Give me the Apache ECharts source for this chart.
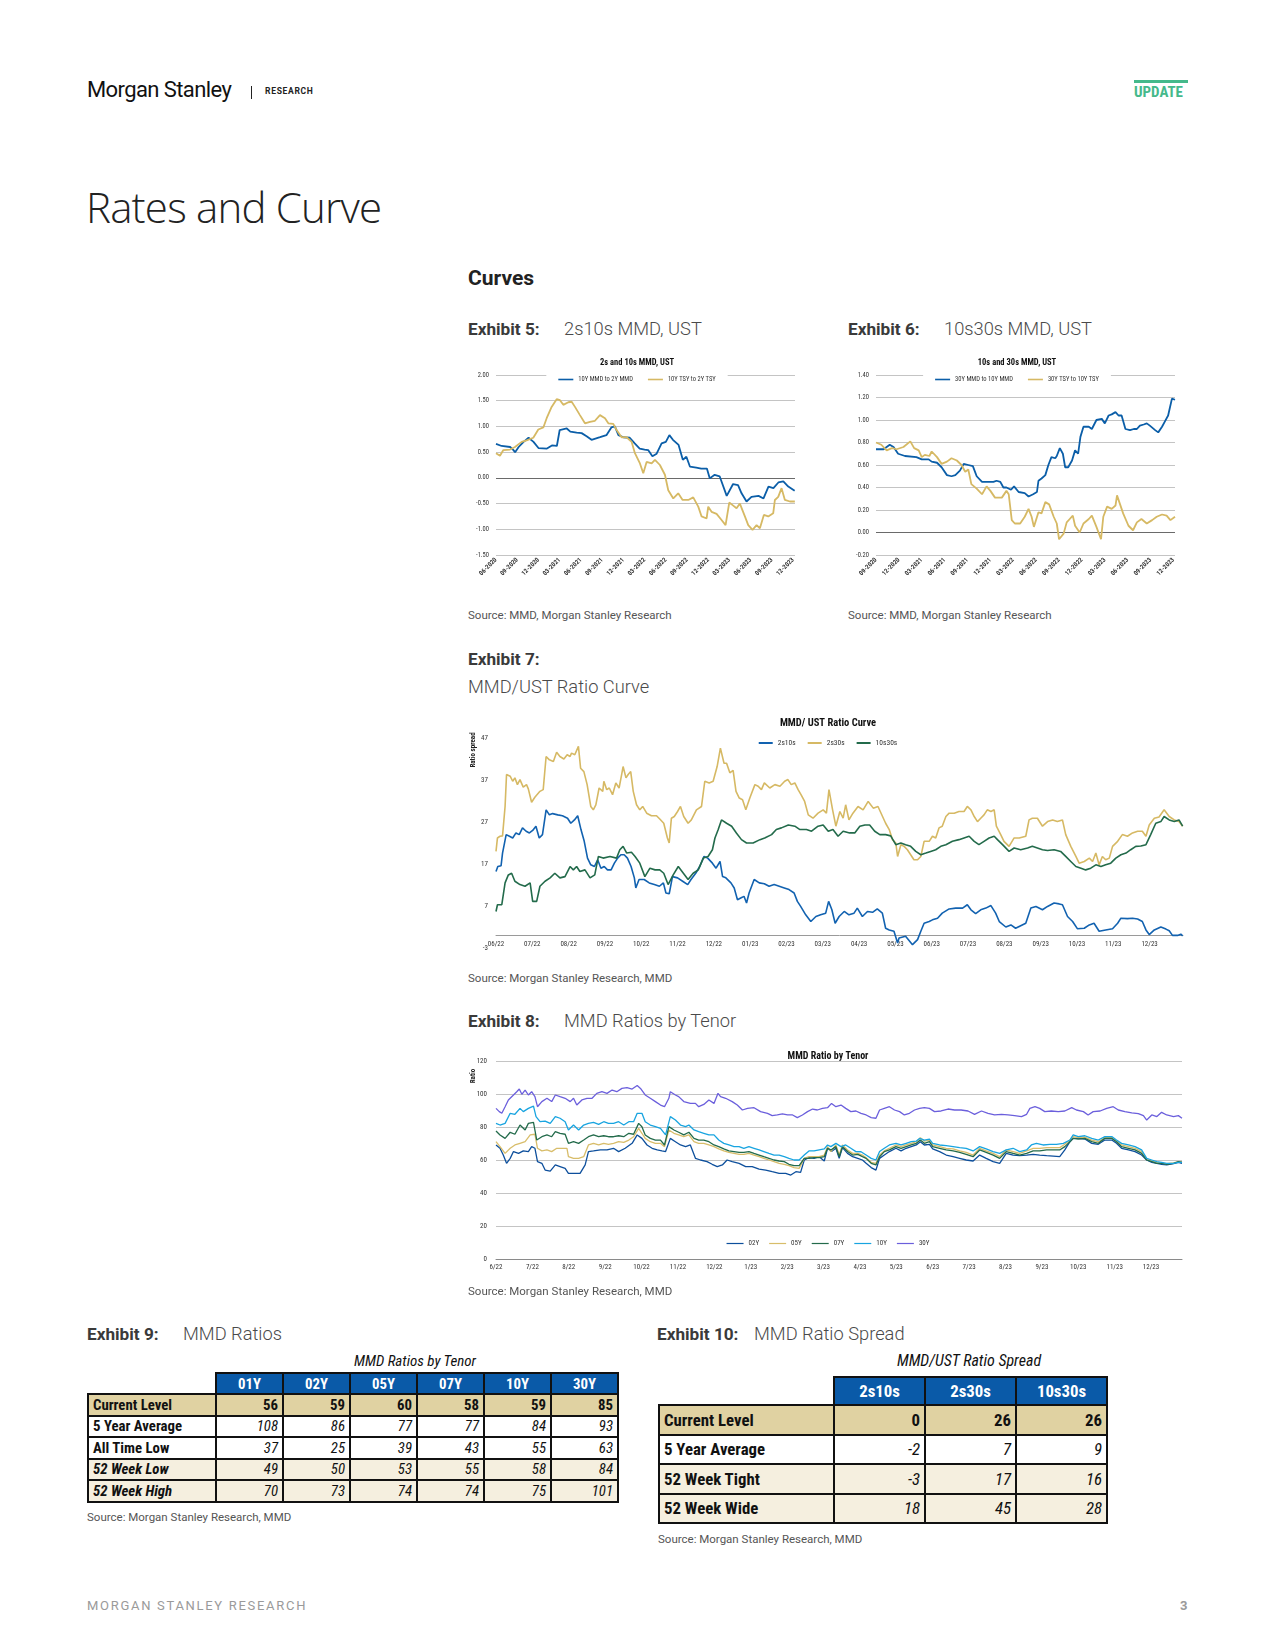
<!DOCTYPE html>
<html><head><meta charset="utf-8">
<script src="https://cdn.jsdelivr.net/npm/echarts@6/dist/echarts.min.js"></script>
<style>
body{margin:0;background:#fff;width:1275px;height:1650px;position:relative;overflow:hidden;font-family:Roboto,"Open Sans",sans-serif;color:#222}
.t{position:absolute;white-space:nowrap;line-height:1}
.ex{font-size:17.2px;font-weight:700;color:#3a3a3a}
.ed{font-size:18.3px;font-weight:300;color:#4a4a4a}
.src{font-size:11.5px;color:#555}
.cond{font-family:"Roboto Condensed","Liberation Sans Narrow","DejaVu Sans Condensed",Roboto,sans-serif}
.chart{position:absolute}
table.tb{position:absolute;border-collapse:collapse;table-layout:fixed;font-family:"Roboto Condensed","Liberation Sans Narrow","DejaVu Sans Condensed",Roboto,sans-serif;color:#111}
table.tb td{border:2px solid #111;padding:0 4px;white-space:nowrap;overflow:hidden}
table.tb td.blank{border:none;background:transparent}
table.tb td.hd{background:#0a5aa8;color:#fff;font-weight:700;text-align:center}
table.tb td.lb{font-weight:700;text-align:left}
table.tb td.v{text-align:right;font-style:italic}
</style></head><body>

<div class="t" style="left:87px;top:79px;font-size:22px;color:#111;letter-spacing:-0.6px">Morgan Stanley</div>
<div style="position:absolute;left:251px;top:86px;width:1px;height:13px;background:#222"></div>
<div class="t" style="left:265px;top:87px;font-size:8.5px;font-weight:700;letter-spacing:0.7px;color:#222">RESEARCH</div>
<div style="position:absolute;left:1134px;top:80px;width:54px;height:3px;background:#45b98b"></div>
<div class="t cond" style="left:1134px;top:85px;font-size:15px;font-weight:700;color:#45b98b">UPDATE</div>

<div class="t" style="left:86px;top:186px;font-size:42px;font-weight:300;color:#222;font-family:'Open Sans',Lato,sans-serif;letter-spacing:-0.8px">Rates and Curve</div>

<div class="t" style="left:468px;top:268px;font-size:21px;font-weight:700;color:#222">Curves</div>

<div class="t ex" style="left:468px;top:321px">Exhibit 5:</div>
<div class="t ed" style="left:564px;top:320px">2s10s MMD, UST</div>
<div class="t ex" style="left:848px;top:321px">Exhibit 6:</div>
<div class="t ed" style="left:944px;top:320px">10s30s MMD, UST</div>
<div id="c5" class="chart" style="left:460px;top:345px;width:354px;height:250px"></div>
<div id="c6" class="chart" style="left:840px;top:345px;width:354px;height:250px"></div>
<div class="t src" style="left:468px;top:610px">Source: MMD, Morgan Stanley Research</div>
<div class="t src" style="left:848px;top:610px">Source: MMD, Morgan Stanley Research</div>

<div class="t ex" style="left:468px;top:651px">Exhibit 7:</div>
<div class="t ed" style="left:468px;top:678px">MMD/UST Ratio Curve</div>
<div id="c7" class="chart" style="left:460px;top:700px;width:736px;height:270px"></div>
<div class="t src" style="left:468px;top:973px">Source: Morgan Stanley Research, MMD</div>

<div class="t ex" style="left:468px;top:1013px">Exhibit 8:</div>
<div class="t ed" style="left:564px;top:1012px">MMD Ratios by Tenor</div>
<div id="c8" class="chart" style="left:460px;top:1040px;width:736px;height:245px"></div>
<div class="t src" style="left:468px;top:1286px">Source: Morgan Stanley Research, MMD</div>

<div class="t ex" style="left:87px;top:1326px">Exhibit 9:</div>
<div class="t ed" style="left:183px;top:1325px">MMD Ratios</div>
<div class="t cond" style="left:415px;top:1354px;font-size:15px;font-style:italic;color:#111;transform:translateX(-50%)">MMD Ratios by Tenor</div>
<table id="t9" class="tb" style="left:87px;top:1372px;width:530px"></table>
<div class="t src" style="left:87px;top:1512px">Source: Morgan Stanley Research, MMD</div>

<div class="t ex" style="left:657px;top:1326px">Exhibit 10:</div>
<div class="t ed" style="left:754px;top:1325px">MMD Ratio Spread</div>
<div class="t cond" style="left:969px;top:1353px;font-size:16px;font-style:italic;color:#111;transform:translateX(-50%)">MMD/UST Ratio Spread</div>
<table id="t10" class="tb" style="left:658px;top:1376px;width:448px"></table>
<div class="t src" style="left:658px;top:1534px">Source: Morgan Stanley Research, MMD</div>

<div class="t" style="left:87px;top:1599px;font-size:13px;letter-spacing:1.7px;color:#9a9a9a">MORGAN STANLEY RESEARCH</div>
<div class="t" style="left:1180px;top:1599px;font-size:13px;font-weight:700;color:#9a9a9a">3</div>

<script>
// ---------------- DATA ----------------
// Exhibit 5: x = months since 06-2020
const ex5Ticks = ['06-2020','09-2020','12-2020','03-2021','06-2021','09-2021','12-2021','03-2022','06-2022','09-2022','12-2022','03-2023','06-2023','09-2023','12-2023'];
const ex5Mmd = [[0,0.66],[0.8,0.62],[2.0,0.60],[2.4,0.55],[2.7,0.50],[3.2,0.60],[3.9,0.70],[4.6,0.78],[5.3,0.70],[6.0,0.58],[7.2,0.57],[7.9,0.63],[8.6,0.62],[9.0,0.93],[10.0,0.96],[10.5,0.90],[11.4,0.88],[12.1,0.87],[12.8,0.81],[13.5,0.74],[14.7,0.79],[15.6,0.83],[16.3,0.98],[16.8,1.00],[17.3,0.83],[18.0,0.79],[18.9,0.78],[19.6,0.67],[20.3,0.57],[21.0,0.55],[21.5,0.54],[22.1,0.42],[22.7,0.47],[23.4,0.67],[24.0,0.70],[24.5,0.83],[25.0,0.74],[25.8,0.64],[26.4,0.35],[26.9,0.41],[27.4,0.22],[28.3,0.20],[29.0,0.18],[29.8,0.18],[30.2,-0.01],[30.9,0.06],[31.6,0.03],[32.6,-0.35],[33.5,-0.12],[34.2,-0.14],[34.7,-0.30],[35.4,-0.46],[36.1,-0.37],[37.1,-0.35],[37.8,-0.40],[38.5,-0.17],[39.2,-0.20],[39.9,-0.09],[40.6,-0.07],[41.3,-0.17],[42.2,-0.25]];
const ex5Tsy = [[0,0.48],[0.56,0.43],[1.04,0.54],[1.98,0.55],[2.68,0.60],[3.63,0.70],[4.33,0.73],[5.27,0.78],[5.98,0.94],[6.69,0.98],[7.16,1.16],[7.86,1.38],[8.57,1.53],[9.04,1.51],[9.51,1.42],[10.22,1.47],[10.69,1.48],[11.16,1.38],[11.86,1.22],[12.57,1.06],[13.28,1.09],[13.98,1.11],[14.69,1.22],[15.40,1.16],[15.87,1.06],[16.57,1.05],[17.04,0.93],[17.75,0.79],[18.46,0.79],[19.16,0.70],[19.63,0.48],[20.34,0.28],[20.81,0.09],[21.28,0.31],[21.99,0.28],[22.46,0.35],[23.16,0.25],[23.87,0.06],[24.34,-0.24],[25.05,-0.40],[25.75,-0.30],[26.37,-0.43],[27.17,-0.43],[27.87,-0.38],[28.58,-0.56],[29.05,-0.75],[29.76,-0.79],[29.99,-0.56],[30.46,-0.66],[31.17,-0.70],[31.87,-0.82],[32.44,-0.92],[32.96,-0.48],[33.43,-0.53],[33.99,-0.59],[34.46,-0.50],[35.17,-0.75],[35.64,-0.92],[36.25,-1.01],[36.82,-0.92],[37.29,-0.98],[37.85,-0.72],[38.47,-0.75],[39.17,-0.69],[39.41,-0.43],[39.88,-0.37],[40.35,-0.20],[40.82,-0.43],[41.53,-0.46],[42.23,-0.46]];

// Exhibit 6: x = months since 09-2020
const ex6Ticks = ['09-2020','12-2020','03-2021','06-2021','09-2021','12-2021','03-2022','06-2022','09-2022','12-2022','03-2023','06-2023','09-2023','12-2023'];
const ex6Mmd = [[0,0.74],[1.0,0.74],[1.4,0.76],[1.8,0.78],[2.3,0.76],[2.9,0.70],[3.8,0.68],[5.3,0.67],[6.0,0.65],[6.9,0.65],[7.3,0.63],[8.0,0.62],[8.6,0.58],[9.3,0.51],[9.9,0.50],[10.4,0.51],[11.0,0.55],[11.5,0.61],[12.1,0.60],[12.7,0.59],[13.2,0.50],[13.9,0.45],[14.5,0.45],[15.4,0.45],[15.8,0.46],[16.3,0.45],[16.7,0.40],[17.1,0.40],[17.7,0.38],[18.1,0.41],[18.7,0.36],[19.5,0.35],[20.0,0.32],[20.6,0.34],[21.1,0.36],[21.3,0.46],[21.7,0.48],[22.2,0.51],[22.6,0.60],[23.0,0.67],[23.5,0.66],[23.7,0.68],[24.1,0.75],[24.5,0.70],[24.8,0.58],[25.2,0.58],[25.7,0.64],[26.1,0.73],[26.5,0.70],[26.8,0.85],[27.2,0.94],[27.9,0.94],[28.3,0.92],[28.9,1.00],[29.6,1.01],[30.0,0.97],[30.5,1.04],[30.9,1.05],[31.4,1.07],[31.8,1.04],[32.2,1.04],[32.7,0.92],[33.3,0.91],[33.8,0.92],[34.2,0.92],[34.6,0.95],[35.1,0.96],[35.5,0.97],[35.9,0.95],[36.6,0.91],[37.0,0.89],[37.5,0.94],[37.9,0.99],[38.3,1.04],[38.8,1.19],[39.2,1.18]];
const ex6Tsy = [[0,0.80],[0.7,0.78],[1.4,0.73],[2.1,0.75],[2.7,0.74],[3.6,0.76],[4.5,0.81],[5.0,0.75],[5.6,0.73],[6.0,0.67],[6.4,0.69],[7.0,0.68],[7.3,0.72],[8.0,0.67],[8.6,0.61],[9.3,0.63],[9.9,0.66],[10.6,0.64],[11.2,0.60],[11.7,0.54],[12.1,0.56],[12.5,0.43],[13.2,0.39],[13.9,0.34],[14.5,0.41],[15.0,0.37],[15.6,0.31],[16.5,0.31],[17.1,0.37],[17.4,0.34],[17.8,0.11],[18.2,0.08],[18.9,0.08],[19.5,0.14],[20.0,0.21],[20.4,0.14],[20.7,0.05],[21.3,0.18],[21.7,0.17],[22.2,0.27],[22.7,0.25],[23.3,0.14],[23.7,0.08],[24.0,-0.06],[24.6,-0.01],[25.0,0.09],[25.4,0.12],[25.8,0.15],[26.1,0.06],[26.7,0.00],[27.2,0.08],[27.9,0.12],[28.3,0.15],[28.9,0.05],[29.5,-0.06],[29.8,0.14],[30.3,0.23],[30.9,0.21],[31.4,0.24],[31.6,0.33],[32.0,0.25],[32.4,0.17],[33.1,0.06],[33.7,0.02],[34.2,0.09],[34.8,0.12],[35.5,0.08],[36.2,0.11],[36.8,0.14],[37.5,0.16],[38.1,0.15],[38.6,0.11],[39.2,0.14]];

// Exhibit 7: x = months since 06/22
const ex7Ticks = ['06/22','07/22','08/22','09/22','10/22','11/22','12/22','01/23','02/23','03/23','04/23','05/23','06/23','07/23','08/23','09/23','10/23','11/23','12/23'];
const ex7S2s10s = [[0,15.2],[0.05,16.4],[0.14,16.6],[0.18,19.6],[0.28,24.0],[0.37,23.6],[0.46,23.2],[0.55,24.4],[0.64,24.0],[0.73,25.6],[0.83,24.8],[0.92,24.4],[1.01,25.0],[1.10,26.0],[1.19,23.2],[1.28,24.0],[1.38,29.9],[1.47,28.7],[1.56,29.0],[1.70,28.7],[1.83,28.5],[1.97,27.9],[2.06,26.7],[2.16,27.5],[2.25,28.5],[2.34,25.2],[2.43,22.4],[2.52,18.4],[2.61,16.8],[2.71,16.4],[2.80,18.0],[2.89,16.0],[2.98,16.4],[3.07,15.6],[3.17,15.6],[3.26,17.2],[3.35,18.4],[3.44,19.2],[3.53,19.2],[3.62,18.4],[3.72,16.4],[3.81,13.7],[3.85,11.3],[3.94,13.3],[4.08,13.3],[4.22,12.5],[4.36,12.1],[4.50,11.7],[4.61,12.5],[4.68,10.1],[4.77,9.9],[4.86,14.0],[5.00,13.7],[5.14,12.9],[5.28,12.1],[5.37,13.3],[5.50,14.8],[5.61,16.4],[5.73,18.8],[5.83,18.4],[5.96,17.2],[6.06,16.0],[6.17,17.6],[6.24,14.0],[6.33,13.7],[6.47,12.5],[6.56,11.3],[6.65,8.5],[6.74,8.9],[6.83,9.3],[6.90,7.7],[6.97,10.1],[7.11,13.3],[7.25,12.5],[7.39,12.3],[7.52,11.7],[7.66,12.1],[7.80,11.7],[7.94,11.3],[8.07,10.9],[8.21,10.1],[8.30,8.1],[8.39,6.9],[8.53,4.9],[8.67,3.3],[8.81,4.5],[8.94,4.9],[9.08,5.3],[9.16,8.1],[9.25,6.1],[9.34,2.9],[9.45,4.5],[9.59,5.7],[9.72,4.9],[9.86,5.3],[9.95,6.5],[10.09,4.5],[10.23,5.7],[10.37,5.5],[10.50,6.3],[10.64,5.3],[10.73,1.7],[10.83,1.3],[10.96,1.0],[11.06,-1.8],[11.10,-0.6],[11.28,-0.2],[11.47,-2.2],[11.61,-1.0],[11.70,1.0],[11.79,2.9],[11.93,3.3],[12.02,3.7],[12.16,4.1],[12.29,5.3],[12.48,6.3],[12.66,6.5],[12.85,6.5],[12.98,7.3],[13.08,6.1],[13.21,5.2],[13.35,6.1],[13.49,6.5],[13.63,7.1],[13.76,5.3],[13.86,3.3],[14.04,2.0],[14.18,2.5],[14.31,1.7],[14.45,2.3],[14.59,2.9],[14.73,6.5],[14.87,6.9],[15.05,6.1],[15.19,6.9],[15.37,7.7],[15.51,7.5],[15.60,7.3],[15.74,4.5],[15.88,3.3],[16.01,1.6],[16.20,1.7],[16.34,2.5],[16.47,2.9],[16.61,1.0],[16.79,1.3],[16.98,1.6],[17.12,2.9],[17.21,4.1],[17.39,4.0],[17.53,4.1],[17.67,3.9],[17.80,3.3],[17.90,1.3],[17.99,0.2],[18.13,1.3],[18.31,2.0],[18.45,1.5],[18.54,1.1],[18.63,0],[18.77,0],[18.86,0.3],[18.91,-0.1]];
const ex7S2s30s = [[0,20.0],[0.04,23.2],[0.11,23.6],[0.18,23.7],[0.25,30.7],[0.29,38.3],[0.39,37.9],[0.46,36.7],[0.52,37.5],[0.59,35.9],[0.66,37.1],[0.75,35.3],[0.84,35.9],[0.89,34.9],[0.98,31.7],[1.07,32.9],[1.21,34.3],[1.30,34.7],[1.38,42.6],[1.47,41.8],[1.58,41.4],[1.67,43.6],[1.76,42.6],[1.87,42.0],[1.96,43.0],[2.04,42.6],[2.08,43.4],[2.17,43.0],[2.27,45.0],[2.33,39.8],[2.42,39.0],[2.51,35.9],[2.61,30.7],[2.68,29.9],[2.75,31.1],[2.84,35.1],[2.94,34.3],[2.97,36.7],[3.05,34.7],[3.12,35.1],[3.21,33.5],[3.30,36.3],[3.39,35.1],[3.46,38.3],[3.50,40.2],[3.58,37.5],[3.64,38.3],[3.71,39.0],[3.78,34.3],[3.87,31.1],[3.96,29.9],[4.04,30.7],[4.15,29.1],[4.28,28.5],[4.42,28.5],[4.51,27.7],[4.62,26.7],[4.72,23.2],[4.77,22.0],[4.83,27.9],[4.91,28.3],[5.00,29.5],[5.08,30.7],[5.17,28.3],[5.29,26.7],[5.38,27.5],[5.52,29.9],[5.66,30.7],[5.75,36.7],[5.87,36.3],[5.98,36.7],[6.09,40.2],[6.18,44.6],[6.28,41.0],[6.35,41.0],[6.44,38.7],[6.53,39.3],[6.61,34.3],[6.70,32.7],[6.79,32.3],[6.88,29.9],[6.99,32.7],[7.13,35.9],[7.22,35.5],[7.31,34.7],[7.39,36.3],[7.54,35.1],[7.68,35.9],[7.82,35.5],[7.95,36.7],[8.04,37.1],[8.13,35.9],[8.23,36.3],[8.32,34.7],[8.40,33.5],[8.50,31.9],[8.60,28.7],[8.73,27.9],[8.87,29.1],[9.01,29.9],[9.10,29.1],[9.17,34.7],[9.27,29.9],[9.36,26.0],[9.47,29.5],[9.56,27.9],[9.63,31.1],[9.72,27.5],[9.83,29.1],[9.97,30.7],[10.11,29.9],[10.25,31.9],[10.39,30.3],[10.52,30.7],[10.73,26.7],[10.83,25.2],[10.92,22.8],[11.01,22.0],[11.06,18.8],[11.15,21.6],[11.24,21.2],[11.33,20.4],[11.42,19.2],[11.51,18.0],[11.61,18.0],[11.70,18.8],[11.79,22.4],[11.93,22.4],[12.02,23.6],[12.11,23.2],[12.20,25.6],[12.29,26.0],[12.39,28.3],[12.48,29.1],[12.62,29.1],[12.75,29.5],[12.89,29.5],[12.98,30.7],[13.08,29.9],[13.17,28.3],[13.26,27.1],[13.35,27.9],[13.44,28.7],[13.53,29.9],[13.63,29.5],[13.72,29.9],[13.78,26.0],[13.90,24.0],[13.99,22.4],[14.13,21.2],[14.27,23.2],[14.41,23.2],[14.59,23.6],[14.68,27.5],[14.77,27.9],[14.91,27.9],[15.05,26.0],[15.19,27.1],[15.33,27.5],[15.46,27.1],[15.60,27.5],[15.69,24.0],[15.83,21.2],[15.97,18.8],[16.06,17.2],[16.20,17.6],[16.34,18.4],[16.43,17.6],[16.52,19.6],[16.61,16.8],[16.70,18.8],[16.79,18.0],[16.89,18.4],[16.98,21.2],[17.12,22.4],[17.25,24.0],[17.39,23.6],[17.53,24.4],[17.67,24.8],[17.80,24.8],[17.90,23.6],[17.99,26.3],[18.13,27.9],[18.26,28.2],[18.40,29.9],[18.54,28.3],[18.68,27.5],[18.81,27.1],[18.91,26.0]];
const ex7S10s30s = [[0,5.7],[0.04,7.3],[0.16,7.3],[0.25,12.5],[0.34,14.4],[0.43,14.8],[0.52,12.9],[0.66,12.1],[0.80,11.7],[0.94,12.5],[1.01,8.1],[1.12,8.1],[1.21,11.7],[1.35,12.9],[1.49,13.7],[1.62,14.8],[1.76,13.7],[1.90,14.0],[2.04,16.4],[2.13,15.6],[2.22,16.4],[2.31,15.2],[2.45,15.6],[2.59,13.7],[2.72,14.4],[2.82,18.8],[2.95,18.4],[3.14,18.8],[3.32,18.4],[3.41,20.4],[3.50,21.2],[3.60,19.6],[3.73,19.8],[3.83,18.8],[3.96,17.2],[4.10,14.0],[4.24,16.0],[4.38,15.6],[4.51,15.6],[4.62,14.8],[4.74,12.1],[4.88,14.4],[5.02,16.4],[5.16,14.8],[5.29,13.3],[5.43,14.8],[5.57,15.6],[5.71,18.4],[5.84,18.8],[5.96,20.4],[6.03,23.2],[6.12,25.2],[6.21,27.5],[6.35,26.7],[6.49,26.0],[6.62,24.4],[6.76,22.8],[6.90,22.0],[7.08,22.0],[7.27,22.8],[7.40,23.2],[7.59,24.0],[7.72,25.2],[7.86,25.6],[8.05,26.3],[8.23,26.0],[8.37,25.2],[8.55,25.2],[8.69,24.8],[8.87,26.0],[9.01,26.3],[9.15,24.8],[9.28,25.2],[9.42,23.6],[9.56,24.8],[9.74,24.4],[9.88,24.4],[10.02,26.0],[10.16,26.3],[10.29,26.3],[10.43,24.8],[10.57,24.0],[10.73,24.0],[10.87,23.7],[11.01,21.6],[11.15,22.0],[11.28,21.6],[11.42,21.2],[11.56,20.0],[11.70,19.2],[11.84,19.6],[11.97,20.0],[12.11,20.4],[12.25,21.2],[12.39,21.6],[12.57,22.4],[12.75,22.8],[12.89,23.2],[13.03,23.6],[13.17,22.4],[13.30,21.6],[13.44,22.4],[13.58,23.2],[13.72,23.6],[13.81,22.8],[13.95,21.6],[14.13,20.0],[14.27,20.8],[14.45,20.4],[14.64,20.8],[14.77,21.2],[14.91,20.8],[15.05,20.4],[15.19,20.2],[15.37,20.4],[15.55,20.0],[15.69,18.8],[15.83,17.6],[15.97,16.4],[16.11,16.0],[16.24,15.6],[16.38,16.0],[16.52,16.8],[16.66,16.4],[16.79,16.8],[16.93,17.2],[17.07,18.4],[17.21,19.2],[17.35,19.6],[17.48,20.4],[17.62,21.2],[17.76,21.3],[17.90,21.6],[18.03,24.0],[18.17,26.7],[18.31,27.1],[18.40,28.3],[18.54,27.5],[18.68,27.1],[18.81,27.5],[18.91,26.0]];

// Exhibit 8: x = months since 6/22
const ex8Ticks = ['6/22','7/22','8/22','9/22','10/22','11/22','12/22','1/23','2/23','3/23','4/23','5/23','6/23','7/23','8/23','9/23','10/23','11/23','12/23'];
const ex8Y02 = [[0,69.1],[0.11,67.1],[0.20,63.0],[0.29,58.0],[0.39,61.0],[0.48,65.1],[0.62,64.0],[0.75,65.5],[0.89,65.1],[0.98,68.1],[1.07,67.1],[1.14,59.0],[1.26,58.0],[1.35,53.9],[1.49,53.3],[1.63,57.0],[1.76,56.0],[1.90,54.9],[1.99,51.9],[2.18,51.9],[2.31,51.9],[2.45,57.0],[2.54,65.1],[2.68,65.5],[2.87,66.1],[3.05,66.1],[3.23,67.1],[3.37,65.1],[3.55,67.1],[3.74,70.1],[3.88,75.2],[4.01,73.1],[4.15,69.1],[4.29,67.1],[4.43,66.1],[4.56,65.5],[4.66,65.1],[4.79,73.1],[4.93,71.1],[5.07,69.1],[5.21,68.1],[5.34,69.1],[5.48,61.0],[5.62,60.0],[5.80,59.0],[5.94,57.4],[6.08,56.0],[6.22,57.0],[6.35,60.0],[6.49,59.0],[6.68,58.0],[6.86,56.0],[7.04,56.0],[7.23,54.5],[7.41,53.9],[7.59,52.9],[7.78,51.9],[7.96,51.9],[8.10,50.9],[8.24,52.9],[8.37,52.5],[8.47,60.0],[8.60,61.4],[8.74,61.0],[8.88,62.0],[9.02,59.4],[9.11,67.1],[9.22,65.1],[9.34,67.1],[9.43,61.0],[9.52,67.5],[9.66,64.0],[9.80,62.0],[9.94,61.0],[10.07,60.0],[10.17,58.0],[10.31,55.4],[10.44,53.9],[10.54,61.0],[10.67,63.0],[10.81,65.1],[10.99,67.1],[11.13,65.5],[11.27,67.1],[11.41,68.1],[11.55,69.1],[11.66,71.1],[11.77,69.1],[11.91,69.5],[12.00,66.7],[12.19,65.1],[12.37,63.0],[12.56,62.0],[12.74,61.0],[12.92,60.0],[13.11,59.4],[13.29,63.0],[13.47,61.0],[13.66,59.0],[13.84,58.0],[14.02,64.0],[14.21,63.0],[14.39,62.6],[14.58,63.0],[14.76,63.4],[14.94,63.0],[15.13,62.6],[15.31,62.4],[15.49,62.0],[15.63,66.1],[15.77,71.1],[15.86,73.1],[16.00,73.1],[16.18,72.7],[16.37,70.1],[16.55,69.5],[16.73,72.1],[16.92,72.1],[17.05,70.1],[17.19,67.1],[17.38,66.1],[17.56,65.1],[17.74,63.0],[17.88,60.0],[18.02,58.6],[18.16,58.0],[18.29,57.4],[18.43,57.0],[18.62,57.8],[18.75,58.6],[18.85,58.0]];
const ex8Y05 = [[0,71.1],[0.11,68.1],[0.25,64.0],[0.39,67.1],[0.52,69.1],[0.66,70.1],[0.80,71.1],[0.94,75.2],[1.07,75.6],[1.14,67.1],[1.26,65.5],[1.40,66.1],[1.53,65.1],[1.67,67.1],[1.81,67.1],[1.95,67.1],[1.99,62.0],[2.13,61.0],[2.27,61.0],[2.41,62.0],[2.54,69.1],[2.68,70.1],[2.82,69.1],[2.96,70.1],[3.09,69.5],[3.23,70.1],[3.37,71.1],[3.51,70.7],[3.65,72.1],[3.78,74.1],[3.92,79.2],[4.01,76.2],[4.10,73.1],[4.24,71.1],[4.38,70.1],[4.52,70.1],[4.63,68.1],[4.75,78.2],[4.89,76.2],[5.02,75.2],[5.16,74.1],[5.30,75.2],[5.44,71.1],[5.57,70.1],[5.71,70.1],[5.85,69.1],[5.99,68.1],[6.12,66.7],[6.26,65.5],[6.40,64.6],[6.54,64.0],[6.68,63.4],[6.81,63.4],[6.95,64.0],[7.09,63.0],[7.23,62.0],[7.36,61.0],[7.50,60.0],[7.64,59.0],[7.78,58.0],[7.92,57.4],[8.05,56.6],[8.19,55.4],[8.33,54.9],[8.47,61.0],[8.60,62.0],[8.74,62.0],[8.88,62.0],[9.02,63.0],[9.11,68.1],[9.20,65.1],[9.34,69.1],[9.43,63.0],[9.52,69.1],[9.66,66.1],[9.80,64.0],[9.94,64.0],[10.07,63.0],[10.17,61.4],[10.31,58.6],[10.44,58.0],[10.54,63.0],[10.67,65.5],[10.81,67.1],[10.99,69.1],[11.13,68.1],[11.27,69.1],[11.41,70.1],[11.55,71.1],[11.66,73.5],[11.77,71.5],[11.91,72.1],[12.00,69.1],[12.19,68.1],[12.37,67.1],[12.56,66.7],[12.74,65.5],[12.92,64.6],[13.11,63.0],[13.29,67.1],[13.47,65.5],[13.66,64.0],[13.84,62.0],[14.02,66.1],[14.21,65.1],[14.39,64.0],[14.58,65.5],[14.76,67.1],[14.94,67.1],[15.13,67.5],[15.31,67.5],[15.49,67.5],[15.63,69.5],[15.77,72.1],[15.86,74.2],[16.00,73.5],[16.18,73.9],[16.37,72.1],[16.55,71.1],[16.73,73.5],[16.92,73.5],[17.05,71.5],[17.19,69.1],[17.38,68.1],[17.56,67.1],[17.74,65.1],[17.88,60.6],[18.02,59.4],[18.16,58.6],[18.29,58.0],[18.43,57.8],[18.62,58.2],[18.75,59.0],[18.85,59.0]];
const ex8Y07 = [[0,77.6],[0.11,75.2],[0.25,73.1],[0.39,76.8],[0.52,75.6],[0.66,81.2],[0.80,78.2],[0.89,82.2],[1.03,82.8],[1.12,72.1],[1.26,74.1],[1.40,75.2],[1.53,74.1],[1.63,77.2],[1.76,76.2],[1.90,75.6],[1.99,70.1],[2.13,71.1],[2.27,70.1],[2.41,72.1],[2.54,74.1],[2.68,75.2],[2.82,74.1],[2.96,74.7],[3.09,74.1],[3.23,74.1],[3.37,74.7],[3.51,74.1],[3.65,76.2],[3.78,75.6],[3.92,82.2],[4.01,80.2],[4.10,75.2],[4.24,73.1],[4.38,72.1],[4.52,72.1],[4.63,69.1],[4.75,80.2],[4.89,78.2],[5.02,76.8],[5.16,75.2],[5.30,76.8],[5.44,73.1],[5.57,72.1],[5.71,72.1],[5.85,71.1],[5.99,69.1],[6.12,68.1],[6.26,66.7],[6.40,65.5],[6.54,65.1],[6.68,64.6],[6.81,64.6],[6.95,65.1],[7.09,64.0],[7.23,63.0],[7.36,62.0],[7.50,61.0],[7.64,60.0],[7.78,59.4],[7.92,59.0],[8.05,57.4],[8.19,56.6],[8.33,56.6],[8.47,61.0],[8.60,61.0],[8.74,61.4],[8.88,61.4],[9.02,62.0],[9.11,67.1],[9.20,66.1],[9.34,68.1],[9.43,62.0],[9.52,68.1],[9.66,65.1],[9.80,63.0],[9.94,63.4],[10.07,62.0],[10.17,61.0],[10.31,58.0],[10.44,57.0],[10.54,62.0],[10.67,65.1],[10.81,66.1],[10.99,68.1],[11.13,67.1],[11.27,68.1],[11.41,69.1],[11.55,70.1],[11.66,72.1],[11.77,70.1],[11.91,71.1],[12.00,68.1],[12.19,67.1],[12.37,66.1],[12.56,65.5],[12.74,64.6],[12.92,63.4],[13.11,62.0],[13.29,66.1],[13.47,64.6],[13.66,63.0],[13.84,61.0],[14.02,65.1],[14.21,64.0],[14.39,63.0],[14.58,64.0],[14.76,65.5],[14.94,65.5],[15.13,66.1],[15.31,66.1],[15.49,66.1],[15.63,68.1],[15.77,71.1],[15.86,73.1],[16.00,72.7],[16.18,73.1],[16.37,71.1],[16.55,70.1],[16.73,73.1],[16.92,73.1],[17.05,71.1],[17.19,68.1],[17.38,67.1],[17.56,66.1],[17.74,64.0],[17.88,60.0],[18.02,59.0],[18.16,58.0],[18.29,58.0],[18.43,57.4],[18.62,58.0],[18.75,59.0],[18.85,58.6]];
const ex8Y10 = [[0,82.2],[0.11,81.2],[0.25,82.2],[0.39,88.3],[0.52,87.7],[0.66,91.3],[0.75,89.3],[0.89,91.3],[1.03,92.7],[1.10,86.3],[1.21,83.2],[1.35,83.6],[1.49,82.2],[1.63,86.3],[1.76,85.3],[1.90,83.2],[1.99,78.2],[2.13,81.2],[2.27,78.2],[2.41,81.2],[2.54,82.2],[2.68,82.8],[2.82,81.6],[2.96,83.2],[3.09,82.2],[3.23,82.2],[3.37,83.2],[3.51,81.2],[3.65,83.2],[3.78,83.2],[3.88,88.3],[4.01,88.3],[4.10,83.2],[4.24,81.2],[4.38,80.2],[4.52,79.2],[4.66,75.2],[4.79,86.3],[4.93,84.2],[5.07,81.2],[5.21,80.2],[5.30,81.2],[5.44,78.2],[5.57,77.2],[5.71,76.2],[5.85,75.2],[5.99,75.2],[6.12,72.1],[6.26,70.1],[6.40,69.1],[6.54,68.1],[6.68,68.1],[6.81,67.1],[6.95,68.1],[7.09,67.1],[7.23,66.1],[7.36,65.1],[7.50,64.0],[7.64,63.0],[7.78,63.0],[7.92,62.0],[8.05,61.0],[8.19,60.0],[8.33,60.0],[8.47,63.0],[8.60,65.5],[8.74,65.5],[8.88,66.1],[9.02,66.7],[9.11,69.1],[9.20,68.1],[9.34,70.1],[9.48,68.1],[9.61,69.1],[9.75,67.1],[9.89,65.1],[10.03,65.0],[10.17,63.0],[10.31,61.0],[10.44,60.0],[10.54,65.1],[10.67,67.1],[10.81,69.1],[10.99,70.1],[11.13,69.1],[11.27,70.1],[11.41,71.1],[11.55,71.5],[11.64,73.1],[11.77,72.1],[11.91,72.7],[12.00,70.1],[12.19,69.1],[12.37,68.7],[12.56,68.1],[12.74,67.5],[12.92,67.1],[13.11,65.5],[13.29,68.1],[13.47,66.7],[13.66,65.1],[13.84,64.0],[14.02,66.1],[14.21,67.1],[14.39,65.1],[14.58,66.1],[14.71,69.1],[14.85,70.1],[15.03,69.1],[15.22,69.5],[15.40,69.5],[15.59,70.1],[15.77,72.1],[15.86,75.2],[16.00,74.2],[16.18,74.7],[16.37,73.1],[16.55,72.1],[16.73,74.2],[16.92,74.2],[17.05,72.1],[17.19,70.1],[17.38,69.1],[17.56,68.1],[17.74,66.1],[17.88,61.0],[18.02,60.0],[18.16,59.0],[18.29,58.6],[18.43,58.0],[18.62,58.0],[18.75,58.6],[18.85,58.6]];
const ex8Y30 = [[0,91.3],[0.09,89.3],[0.16,88.3],[0.25,92.3],[0.34,96.4],[0.48,99.4],[0.57,101.4],[0.64,103.0],[0.71,99.8],[0.80,102.4],[0.89,99.4],[0.98,101.4],[1.07,98.4],[1.14,92.3],[1.26,95.4],[1.40,97.4],[1.53,95.4],[1.63,99.4],[1.76,98.4],[1.90,97.4],[2.04,95.4],[2.13,97.4],[2.22,93.3],[2.36,96.4],[2.50,97.4],[2.64,97.4],[2.77,100.4],[2.91,101.4],[3.05,100.4],[3.19,102.4],[3.32,101.4],[3.46,103.4],[3.60,103.8],[3.74,103.0],[3.88,105.1],[3.97,103.4],[4.10,99.4],[4.24,97.4],[4.38,95.4],[4.52,93.3],[4.63,92.3],[4.75,97.4],[4.79,101.4],[4.93,99.4],[5.02,98.4],[5.16,95.4],[5.34,94.3],[5.48,94.3],[5.57,92.3],[5.71,93.7],[5.85,96.4],[5.99,94.3],[6.10,100.4],[6.17,98.4],[6.31,97.4],[6.49,95.4],[6.63,93.3],[6.77,90.3],[6.91,91.3],[7.09,91.7],[7.27,89.3],[7.46,88.3],[7.59,86.9],[7.73,87.3],[7.87,87.9],[8.01,87.3],[8.15,87.3],[8.28,85.7],[8.42,87.3],[8.56,89.3],[8.70,90.9],[8.83,90.3],[8.97,91.3],[9.11,91.7],[9.22,94.3],[9.34,92.3],[9.48,93.3],[9.61,91.3],[9.75,89.3],[9.89,89.7],[10.03,88.3],[10.17,87.3],[10.31,85.7],[10.44,85.3],[10.54,90.3],[10.67,91.3],[10.81,92.3],[10.95,90.3],[11.09,89.3],[11.22,87.3],[11.36,88.3],[11.50,90.3],[11.64,91.3],[11.77,91.7],[11.91,91.3],[12.05,89.3],[12.23,89.7],[12.42,90.9],[12.60,90.3],[12.78,90.3],[12.97,89.7],[13.15,87.7],[13.34,89.7],[13.52,88.3],[13.70,87.3],[13.89,87.7],[14.07,87.3],[14.25,86.9],[14.44,86.3],[14.58,87.7],[14.67,91.3],[14.81,92.3],[14.94,91.3],[15.08,89.3],[15.26,89.7],[15.45,89.3],[15.63,89.7],[15.82,91.7],[15.95,90.3],[16.14,89.3],[16.27,87.3],[16.41,89.3],[16.60,89.7],[16.78,91.3],[16.96,92.3],[17.10,90.3],[17.28,89.3],[17.47,88.5],[17.65,88.1],[17.79,86.9],[17.88,84.2],[18.02,87.3],[18.16,86.3],[18.29,88.9],[18.43,87.3],[18.62,86.3],[18.75,86.9],[18.85,85.3]];

// Exhibit 9 / 10 tables
const t9Cols = ['01Y','02Y','05Y','07Y','10Y','30Y'];
const t9Rows = ['Current Level','5 Year Average','All Time Low','52 Week Low','52 Week High'];
const t9Vals = [[56,59,60,58,59,85],[108,86,77,77,84,93],[37,25,39,43,55,63],[49,50,53,55,58,84],[70,73,74,74,75,101]];
const t10Cols = ['2s10s','2s30s','10s30s'];
const t10Rows = ['Current Level','5 Year Average','52 Week Tight','52 Week Wide'];
const t10Vals = [[0,26,26],[-2,7,9],[-3,17,16],[18,45,28]];

// ---------------- RENDER ----------------
const FONT = '"Roboto Condensed","Liberation Sans Narrow","DejaVu Sans Condensed",Roboto,sans-serif';
const BLUE='#0b5ea8', GOLD='#d6b964', GREEN='#236b4b';

function ln(name, data, color, width){
  return {name, type:'line', data, symbol:'none', showSymbol:false, smooth:false,
    lineStyle:{color, width}, itemStyle:{color}, emphasis:{disabled:true}, silent:true};
}
function tickFmt(ticks, step){
  return function(v){
    const k = v/step, r = Math.round(k);
    if (Math.abs(k-r) > 1e-6) return '';
    return ticks[r] !== undefined ? ticks[r] : '';
  };
}

function smallChart(el, title, names, s1, s2, ticks, xmax, ymin, ymax, yint, zeroIdx, nLines){
  const colors = [];
  for (let i=0;i<nLines;i++) colors.push(i===zeroIdx ? '#6a6a6a' : '#c4c4c4');
  const c = echarts.init(document.getElementById(el), null, {renderer:'canvas'});
  c.setOption({
    animation:false,
    textStyle:{fontFamily:FONT},
    title:{text:title, left:'center', top:13.5, padding:0, textStyle:{fontFamily:FONT, fontSize:8.5, fontWeight:'bold', color:'#111'}},
    legend:{top:28, left:'center', backgroundColor:'#fff', padding:[3,12], icon:'rect', itemWidth:15, itemHeight:1.6, itemGap:15,
      textStyle:{fontFamily:FONT, fontSize:6.5, color:'#333'}, data:names},
    grid:{left:36, top:30, width:299, height:180, outerBoundsMode:'none'},
    xAxis:{type:'value', min:0, max:xmax, interval:3, axisLine:{show:false, onZero:false}, axisTick:{show:false}, splitLine:{show:false},
      axisLabel:{rotate:45, fontSize:6.5, fontWeight:'bold', color:'#333', margin:4, fontFamily:FONT, formatter:tickFmt(ticks,3)}},
    yAxis:{type:'value', min:ymin, max:ymax, interval:yint, axisLine:{show:false}, axisTick:{show:false},
      splitLine:{show:true, lineStyle:{color:colors, width:1}},
      axisLabel:{fontSize:6.5, color:'#333', margin:7, fontFamily:FONT, formatter:v=>v.toFixed(2)}},
    series:[ln(names[0], s1, BLUE, 1.8), ln(names[1], s2, GOLD, 1.8)]
  });
}

smallChart('c5','2s and 10s MMD, UST',['10Y MMD to 2Y MMD','10Y TSY to 2Y TSY'], ex5Mmd, ex5Tsy, ex5Ticks, 42.25, -1.5, 2, 0.5, 3, 8);
smallChart('c6','10s and 30s MMD, UST',['30Y MMD to 10Y MMD','30Y TSY to 10Y TSY'], ex6Mmd, ex6Tsy, ex6Ticks, 39.2, -0.2, 1.4, 0.2, 1, 9);

// Exhibit 7
(function(){
  const c = echarts.init(document.getElementById('c7'));
  c.setOption({
    animation:false,
    textStyle:{fontFamily:FONT},
    title:{text:'MMD/ UST Ratio Curve', left:'center', top:17.5, padding:0, textStyle:{fontFamily:FONT, fontSize:10.5, fontWeight:'bold', color:'#111'}},
    legend:{top:39, left:'center', padding:0, icon:'rect', itemWidth:14, itemHeight:2, itemGap:12,
      textStyle:{fontFamily:FONT, fontSize:7.5, color:'#333'}, data:['2s10s','2s30s','10s30s']},
    grid:{left:36, top:38, width:687, height:210, outerBoundsMode:'none'},
    xAxis:{type:'value', min:0, max:18.92, interval:1, axisLine:{show:true, onZero:true, lineStyle:{color:'#9a9a9a', width:1}}, axisTick:{show:false}, splitLine:{show:false},
      axisLabel:{fontSize:7, color:'#333', margin:-7, fontFamily:FONT, formatter:tickFmt(ex7Ticks,1)}},
    yAxis:{type:'value', min:-3, max:47, interval:10, axisLine:{show:false}, axisTick:{show:false}, splitLine:{show:false},
      axisLabel:{fontSize:7, color:'#333', margin:8, fontFamily:FONT}},
    graphic:[{type:'text', x:13, y:50, rotation:Math.PI/2, style:{text:'Ratio spread', fontFamily:FONT, fontSize:7, fontWeight:'bold', fill:'#222', align:'center', verticalAlign:'middle'}}],
    series:[ln('2s10s', ex7S2s10s, '#1262b0', 1.6), ln('2s30s', ex7S2s30s, GOLD, 1.6), ln('10s30s', ex7S10s30s, GREEN, 1.6)]
  });
})();

// Exhibit 8
(function(){
  const c = echarts.init(document.getElementById('c8'));
  c.setOption({
    animation:false,
    textStyle:{fontFamily:FONT},
    title:{text:'MMD Ratio by Tenor', left:'center', top:11, padding:0, textStyle:{fontFamily:FONT, fontSize:10, fontWeight:'bold', color:'#111'}},
    legend:{top:200, left:'center', padding:0, icon:'rect', itemWidth:17, itemHeight:1.2, itemGap:10,
      textStyle:{fontFamily:FONT, fontSize:7, color:'#333'}, data:['02Y','05Y','07Y','10Y','30Y']},
    grid:{left:36, top:21, width:686, height:198, outerBoundsMode:'none'},
    xAxis:{type:'value', min:0, max:18.85, interval:1, axisLine:{show:true, lineStyle:{color:'#8a8a8a', width:1}}, axisTick:{show:false}, splitLine:{show:false},
      axisLabel:{fontSize:7, color:'#333', margin:5, fontFamily:FONT, formatter:tickFmt(ex8Ticks,1)}},
    yAxis:{type:'value', min:0, max:120, interval:20, axisLine:{show:false}, axisTick:{show:false},
      splitLine:{show:true, lineStyle:{color:'#c4c4c4', width:1}},
      axisLabel:{fontSize:7, color:'#333', margin:9, fontFamily:FONT}},
    graphic:[{type:'text', x:13, y:36, rotation:Math.PI/2, style:{text:'Ratio', fontFamily:FONT, fontSize:7, fontWeight:'bold', fill:'#222', align:'center', verticalAlign:'middle'}}],
    series:[ln('02Y', ex8Y02, '#0d4f9c', 1.3), ln('05Y', ex8Y05, '#d8bd6a', 1.3), ln('07Y', ex8Y07, GREEN, 1.3),
            ln('10Y', ex8Y10, '#18a4e0', 1.3), ln('30Y', ex8Y30, '#6b5fdc', 1.3)]
  });
})();

// Tables
function buildTable(id, cols, rows, vals, labelW, colW, headH, rowH, fs, bgs, italLabels){
  const t = document.getElementById(id);
  let h = '<colgroup><col style="width:'+labelW+'px">';
  cols.forEach(()=>{ h += '<col style="width:'+colW+'px">'; });
  h += '</colgroup><tr style="height:'+headH+'px"><td class="blank"></td>';
  cols.forEach(c=>{ h += '<td class="hd" style="font-size:'+fs+'px">'+c+'</td>'; });
  h += '</tr>';
  rows.forEach((r,i)=>{
    const bg = bgs[i];
    h += '<tr style="height:'+rowH+'px;background:'+bg+'">';
    h += '<td class="lb" style="font-size:'+fs+'px;'+(italLabels[i]?'font-style:italic;':'')+'">'+r+'</td>';
    vals[i].forEach(v=>{
      h += '<td class="v" style="font-size:'+fs+'px;'+(i===0?'font-weight:700;font-style:normal;':'')+'">'+v+'</td>';
    });
    h += '</tr>';
  });
  t.innerHTML = h;
}
const TAN='#e0d2a2', CREAM='#f5efdf', WHITE='#ffffff';
buildTable('t9', t9Cols, t9Rows, t9Vals, 128, 67, 21, 21.5, 14.8, [TAN,WHITE,WHITE,CREAM,CREAM],[false,false,false,true,true]);
buildTable('t10', t10Cols, t10Rows, t10Vals, 175, 91, 28, 29.5, 16.8, [TAN,WHITE,CREAM,CREAM],[false,false,false,false]);
</script>
</body></html>
